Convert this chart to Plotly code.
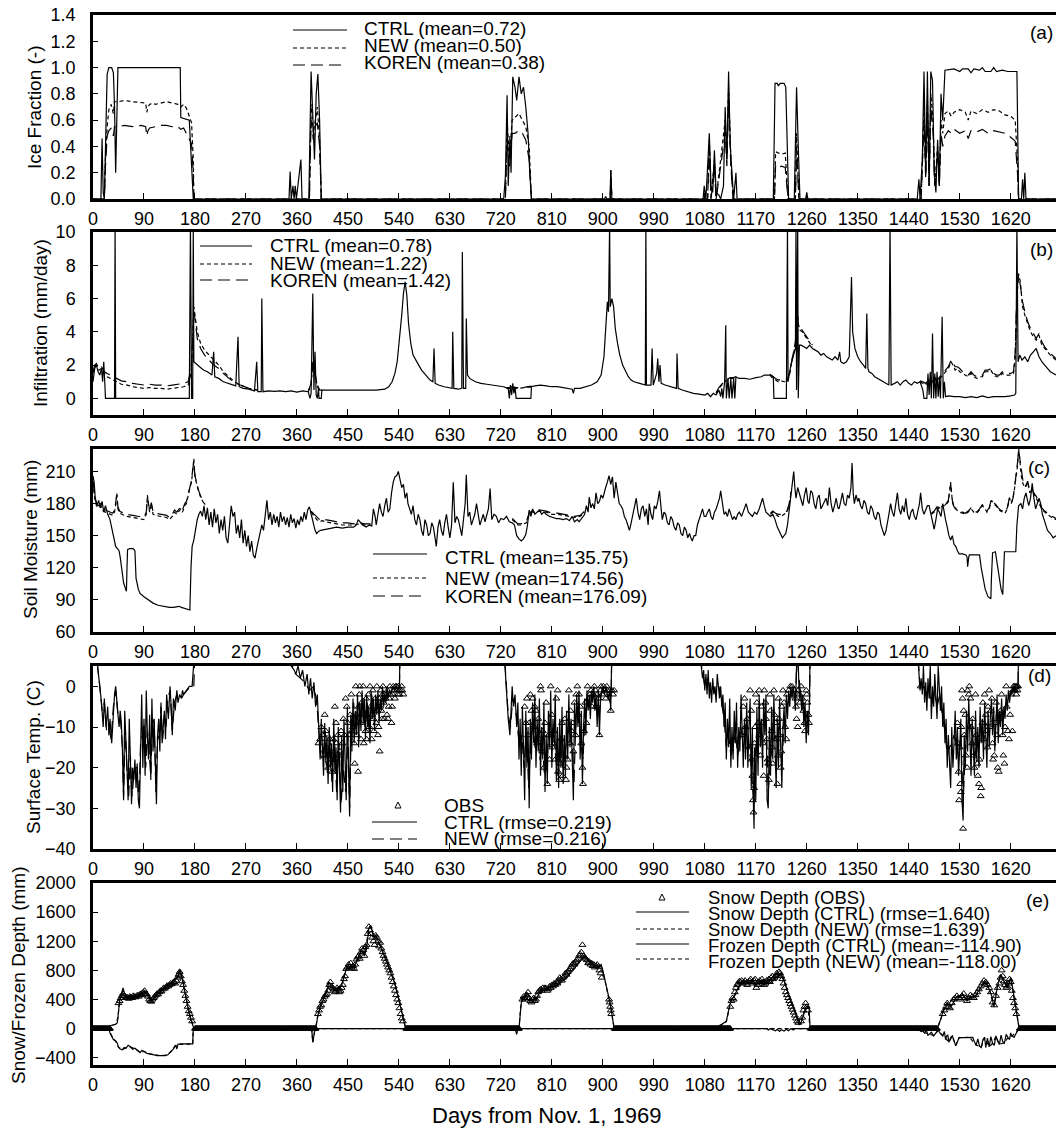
import plotly.graph_objects as go

# ======================= DATA (day, value) =======================
# ---- (a) Ice fraction ----
ice_ctrl = [(0,0),(14,0),(16,0.46),(18,0.05),(20,0),(22,0.5),(25,0.95),(28,1.0),(33,1.0),(36,0.96),(38,0.7),(40,0.2),(42,0.6),(44,1.0),
    (154,1.0),(155,0.62),(170,0.6),(174,0.3),(177,0),(346,0),(348,0.21),(350,0),(353,0.1),(355,0),(357,0.1),(359,0),(367,0.3),(369,0),
    (381,0),(385,0.97),(389,0.5),(391,0.3),(394,0.8),(397,0.95),(400,0.6),(403,0),(725,0),(728,0.17),(731,0.79),(733,0.1),(736,0.48),
    (738,0.2),(741,0.93),(745,0.85),(748,0.75),(752,0.93),(756,0.8),(760,0.85),(764,0.7),(768,0.5),(771,0.2),(774,0),(903,0),(905,0.02),
    (907,0),(913,0),(914,0.22),(916,0),(1077,0),(1079,0.1),(1082,0),(1086,0.3),(1088,0.5),(1091,0.1),(1094,0.05),(1097,0.37),(1100,0.05),
    (1105,0.03),(1108,0),(1113,0.1),(1116,0.7),(1119,0.3),(1122,0.97),(1125,0.4),(1128,0.15),(1131,0),(1135,0.2),(1137,0),(1201,0),
    (1204,0.88),(1208,0.88),(1210,0.86),(1213,0.88),(1220,0.88),(1223,0.85),(1228,0),(1238,0),(1242,0.85),(1245,0.4),(1248,0),(1258,0),
    (1260,0.05),(1262,0),(1455,0),(1458,0.15),(1460,0),(1464,0.3),(1467,0.97),(1470,0.2),(1473,0.97),(1476,0.1),(1479,0.97),(1482,0.9),
    (1485,0.2),(1488,0.05),(1491,0.45),(1494,0.1),(1497,0.8),(1500,0.6),(1504,0.98),(1520,0.99),(1530,0.97),(1535,0.99),(1545,0.99),
    (1550,0.96),(1555,0.99),(1565,0.98),(1570,1.0),(1575,0.97),(1585,0.97),(1590,1.0),(1595,0.97),(1605,0.98),(1615,0.97),(1631,0.97),
    (1634,0),(1639,0),(1641,0.15),(1643,0),(1645,0.2),(1647,0),(1700,0)]
ice_new = [(0,0),(20,0),(22,0.3),(25,0.55),(28,0.68),(32,0.72),(36,0.65),(38,0.74),(45,0.74),(55,0.75),(70,0.74),(85,0.73),(93,0.73),
    (95,0.66),(97,0.7),(100,0.72),(105,0.73),(110,0.72),(120,0.73),(130,0.74),(140,0.73),(150,0.72),(155,0.7),(160,0.72),(165,0.69),
    (170,0.62),(174,0.58),(177,0.3),(178,0),(382,0),(385,0.72),(389,0.5),(392,0.6),(396,0.7),(400,0.45),(403,0),(728,0),(731,0.6),
    (735,0.3),(740,0.6),(745,0.62),(752,0.65),(758,0.6),(764,0.55),(770,0.4),(774,0),(913,0),(914,0.23),(916,0),(1085,0),(1088,0.45),
    (1091,0),(1097,0.3),(1100,0),(1116,0.6),(1119,0.3),(1122,0.85),(1126,0.3),(1130,0),(1203,0),(1205,0.36),(1210,0.35),(1215,0.34),
    (1222,0.35),(1227,0),(1240,0),(1242,0.5),(1246,0),(1462,0),(1467,0.7),(1470,0.2),(1473,0.75),(1476,0.1),(1479,0.8),(1483,0.6),
    (1486,0.1),(1491,0.4),(1494,0.1),(1497,0.6),(1500,0.5),(1504,0.65),(1510,0.67),(1515,0.63),(1520,0.66),(1530,0.68),(1540,0.66),
    (1545,0.6),(1550,0.67),(1560,0.65),(1570,0.68),(1580,0.66),(1590,0.68),(1600,0.67),(1610,0.64),(1620,0.63),(1628,0.6),(1632,0.3),
    (1634,0),(1700,0)]
ice_koren = [(0,0),(20,0),(22,0.25),(25,0.48),(28,0.52),(32,0.54),(36,0.48),(38,0.55),(45,0.55),(55,0.56),(70,0.55),(85,0.56),(93,0.55),
    (95,0.48),(97,0.52),(100,0.54),(110,0.55),(120,0.56),(130,0.56),(140,0.55),(150,0.55),(155,0.53),(160,0.54),(165,0.5),(170,0.45),
    (174,0.42),(177,0.2),(178,0),(382,0),(385,0.6),(389,0.45),(392,0.55),(396,0.58),(400,0.4),(403,0),(728,0),(731,0.45),(735,0.25),
    (740,0.5),(745,0.5),(752,0.52),(758,0.5),(764,0.45),(770,0.3),(774,0),(913,0),(914,0.2),(916,0),(1085,0),(1088,0.4),(1091,0),
    (1097,0.25),(1100,0),(1116,0.5),(1119,0.25),(1122,0.75),(1126,0.25),(1130,0),(1203,0),(1205,0.26),(1210,0.24),(1215,0.25),
    (1222,0.24),(1227,0),(1240,0),(1242,0.4),(1246,0),(1462,0),(1467,0.6),(1470,0.15),(1473,0.65),(1476,0.1),(1479,0.7),(1483,0.5),
    (1486,0.1),(1491,0.35),(1494,0.1),(1497,0.5),(1500,0.4),(1504,0.48),(1510,0.52),(1515,0.5),(1520,0.53),(1530,0.5),(1540,0.52),
    (1545,0.46),(1550,0.52),(1560,0.51),(1570,0.53),(1580,0.5),(1590,0.52),(1600,0.51),(1610,0.5),(1620,0.47),(1628,0.44),(1632,0.2),
    (1634,0),(1700,0)]

# ---- (b) Infiltration ----
infil_ctrl = [(0,1.0),(3,1.8),(6,2.0),(9,1.6),(12,1.4),(15,1.8),(17,1.0),(19,2.2),(21,0.8),(22,0),(38,0),(39,10.5),(40,0),(170,0),
    (172,10.5),(174,0),(176,0),(177,10.5),(178,2.2),(182,2.1),(188,1.9),(195,1.7),(202,1.6),(210,1.4),(213,2.8),(215,1.3),(222,1.2),
    (230,1.0),(238,0.9),(245,0.8),(252,0.75),(256,3.7),(258,0.7),(265,0.6),(275,0.55),(285,0.45),(289,2.2),(291,0.4),(297,0.4),(298,6.0),
    (300,0.4),(310,0.45),(320,0.42),(330,0.45),(340,0.4),(350,0.45),(360,0.38),(370,0.45),(380,0.4),(383,0.0),(385,0.3),(388,6.3),
    (390,0.5),(392,2.8),(394,0.2),(396,0.0),(398,0.6),(399,0),(403,0),(404,0.5),(420,0.5),(440,0.5),(460,0.5),(480,0.5),(500,0.5),
    (515,0.55),(522,0.7),(528,1.0),(533,1.5),(537,2.2),(541,3.5),(545,5.0),(548,6.3),(551,7.0),(554,6.2),(557,4.5),(561,3.3),(565,2.6),
    (570,2.3),(575,2.0),(580,1.7),(585,1.5),(590,1.3),(595,1.1),(600,1.0),(602,3.0),(604,0.9),(610,0.8),(620,0.7),(630,0.6),(634,0.6),
    (635,4.0),(637,0.6),(645,0.55),(651,0.6),(652,8.8),(654,0.6),(658,0.6),(659,4.8),(661,1.4),(665,1.2),(675,1.0),(685,0.9),(695,0.85),
    (705,0.8),(715,0.75),(725,0.7),(733,0.6),(735,0.0),(737,0.8),(739,0.2),(741,0.9),(743,0.3),(745,0.7),(747,0),(773,0),(774,0.7),
    (780,0.75),(790,0.8),(800,0.75),(810,0.7),(820,0.7),(830,0.65),(840,0.6),(846,0.55),(848,0.3),(850,0.6),(860,0.6),(870,0.7),
    (880,0.8),(890,1.0),(897,1.4),(902,2.5),(906,4.5),(908,5.8),(910,5.2),(912,10.5),(913,5.5),(916,6.0),(919,5.5),(922,4.2),(926,3.3),
    (930,2.6),(935,2.0),(940,1.6),(945,1.3),(950,1.1),(955,1.0),(965,0.9),(975,0.8),(976,10.5),(977,0.8),(985,0.8),(987,3.0),(989,0.8),
    (995,1.5),(997,2.4),(999,1.0),(1001,2.0),(1003,0.9),(1010,0.8),(1020,0.7),(1030,0.6),(1031,2.7),(1033,0.6),(1040,0.5),(1050,0.4),
    (1060,0.3),(1070,0.25),(1080,0.2),(1085,0.3),(1090,0.1),(1095,0.3),(1100,0.2),(1105,0.5),(1108,0.1),(1110,0.6),(1112,0),(1115,1.0),
    (1117,4.4),(1118,0),(1121,1.2),(1123,0),(1126,1.2),(1128,0),(1131,1.2),(1133,0),(1135,1.3),(1140,1.2),(1150,1.2),(1160,1.15),
    (1170,1.25),(1180,1.3),(1185,1.4),(1195,1.4),(1201,1.3),(1202,0),(1224,0),(1226,10.5),(1227,1.0),(1232,2.0),(1236,2.6),(1240,3.0),
    (1241,10.5),(1242,0.5),(1244,10.5),(1245,0),(1247,3.2),(1250,3.2),(1255,3.1),(1260,3.0),(1265,3.2),(1270,3.0),(1275,2.9),(1280,2.8),
    (1285,2.6),(1290,2.7),(1295,2.5),(1300,2.4),(1305,2.3),(1310,2.5),(1315,2.3),(1318,2.8),(1320,2.2),(1325,2.1),(1330,2.2),(1335,2.5),
    (1339,7.3),(1341,4.0),(1345,3.0),(1350,2.5),(1355,2.2),(1360,2.0),(1364,1.8),(1366,5.1),(1368,1.8),(1370,1.6),(1375,1.5),(1380,1.3),
    (1385,1.2),(1390,1.1),(1395,1.0),(1400,0.9),(1405,0.8),(1407,10.5),(1409,0.8),(1415,0.9),(1420,1.0),(1425,0.8),(1430,1.0),(1435,1.1),
    (1440,0.9),(1445,0.8),(1450,1.0),(1455,0.9),(1460,1.0),(1465,0.5),(1467,0),(1472,0),(1474,1.5),(1476,0.2),(1478,1.6),(1480,0),
    (1482,3.9),(1484,0),(1486,1.5),(1488,0),(1490,1.6),(1492,0.1),(1494,1.2),(1496,0),(1499,4.9),(1501,0),(1503,1.0),(1505,0.1),
    (1510,0.15),(1520,0.1),(1530,0.1),(1540,0.05),(1550,0.1),(1560,0.05),(1570,0.15),(1580,0.05),(1590,0.1),(1600,0.1),(1610,0.1),
    (1620,0.15),(1627,0.2),(1629,0.3),(1631,10.5),(1633,2.2),(1636,2.6),(1640,2.3),(1645,2.5),(1650,2.2),(1655,2.6),(1660,2.8),
    (1665,3.0),(1670,2.5),(1675,2.2),(1680,2.0),(1685,1.8),(1690,1.6),(1700,1.4)]
infil_new_segs = [
    [(0,1.5),(3,1.9),(6,2.0),(10,1.7),(15,1.8),(20,1.5),(25,1.3),(30,1.2),(40,1.0),(50,0.85),(60,0.8),(70,0.7),(80,0.65),(90,0.6),
     (100,0.65),(110,0.6),(120,0.6),(130,0.55),(140,0.6),(150,0.65),(160,0.7),(168,0.8),(173,1.5),(176,3.5),(178,5.5),(180,5.0),
     (184,4.0),(190,3.3),(197,2.9),(205,2.6),(213,2.3),(222,2.0),(230,1.6),(240,1.3),(250,1.0),(260,0.8),(275,0.6),(290,0.5)],
    [(380,0.4),(385,0.8),(388,2.0),(392,1.5),(396,0.7),(400,0.5),(405,0.5)],
    [(730,0.6),(735,0.6),(740,0.65),(745,0.6),(750,0.6),(755,0.62),(760,0.6),(765,0.65),(770,0.68),(775,0.7)],
    [(1100,0.3),(1105,0.6),(1110,0.8),(1115,1.0),(1120,1.1),(1125,1.2),(1130,1.2),(1135,1.25)],
    [(1195,1.4),(1200,1.2),(1205,1.1),(1210,1.0),(1215,1.05),(1220,1.0),(1225,1.0),(1230,1.5),(1235,2.5),(1240,3.2),(1243,5.5),
     (1245,4.5),(1248,4.1),(1252,4.0),(1256,3.8),(1260,3.6),(1265,3.3),(1270,3.1)],
    [(1460,1.0),(1465,0.9),(1470,0.8),(1475,1.0),(1480,0.9),(1485,1.2),(1490,1.0),(1495,1.2),(1500,1.4),(1505,1.6),(1510,1.8),
     (1515,2.2),(1518,2.0),(1522,1.7),(1526,1.8),(1530,1.6),(1535,1.5),(1540,1.4),(1545,1.3),(1550,1.5),(1555,1.3),(1560,1.2),
     (1565,1.3),(1570,1.3),(1575,1.6),(1580,1.6),(1585,1.7),(1590,1.4),(1595,1.3),(1600,1.3),(1605,1.5),(1610,1.4),(1615,1.4),
     (1620,1.4),(1625,1.5),(1628,2.5),(1631,6.0),(1634,7.5),(1637,7.0),(1641,5.5),(1645,5.0),(1650,4.5),(1655,4.0),(1660,3.7),
     (1665,3.5),(1670,3.8),(1675,3.2),(1680,3.0),(1690,2.6),(1700,2.3)]]
infil_koren_segs = [
    [(0,1.6),(3,2.0),(6,2.1),(10,1.8),(15,1.9),(20,1.6),(25,1.5),(30,1.4),(40,1.2),(50,1.05),(60,1.0),(70,0.9),(80,0.85),(90,0.8),
     (100,0.85),(110,0.8),(120,0.8),(130,0.75),(140,0.8),(150,0.85),(160,0.9),(168,1.0),(173,1.8),(176,3.5),(178,5.2),(180,4.8),
     (184,3.6),(190,3.0),(197,2.6),(205,2.3),(213,2.0),(222,1.8),(230,1.5),(240,1.2),(250,0.95),(260,0.8),(275,0.6),(290,0.5)],
    [(380,0.45),(385,0.9),(388,2.2),(392,1.6),(396,0.8),(400,0.5),(405,0.5)],
    [(730,0.65),(735,0.65),(740,0.7),(745,0.65),(750,0.65),(755,0.68),(760,0.65),(765,0.7),(770,0.72),(775,0.72)],
    [(1100,0.35),(1105,0.65),(1110,0.85),(1115,1.05),(1120,1.15),(1125,1.25),(1130,1.25),(1135,1.3)],
    [(1195,1.45),(1200,1.3),(1205,1.2),(1210,1.1),(1215,1.15),(1220,1.1),(1225,1.05),(1230,1.6),(1235,2.6),(1240,3.4),(1243,5.2),
     (1245,4.4),(1248,4.2),(1252,4.1),(1256,3.9),(1260,3.7),(1265,3.4),(1270,3.2)],
    [(1460,1.05),(1465,1.0),(1470,0.9),(1475,1.1),(1480,1.0),(1485,1.3),(1490,1.1),(1495,1.3),(1500,1.5),(1505,1.7),(1510,1.9),
     (1515,2.3),(1518,2.1),(1522,1.9),(1526,1.9),(1530,1.8),(1535,1.6),(1540,1.5),(1545,1.4),(1550,1.6),(1555,1.4),(1560,1.3),
     (1565,1.4),(1570,1.4),(1575,1.7),(1580,1.7),(1585,1.8),(1590,1.5),(1595,1.4),(1600,1.4),(1605,1.6),(1610,1.5),(1615,1.5),
     (1620,1.5),(1625,1.6),(1628,2.8),(1631,6.5),(1634,7.4),(1637,6.8),(1641,5.8),(1645,5.2),(1650,4.6),(1655,4.2),(1660,3.9),
     (1665,3.6),(1670,3.9),(1675,3.4),(1680,3.1),(1690,2.7),(1700,2.4)]]

# ---- (c) Soil moisture ----
sm_ctrl = [(0,206),(2,200),(4,185),(7,178),(10,183),(13,176),(16,182),(19,172),(22,178),(26,170),(30,165),(33,158),(36,150),(40,140),
    (43,138),(46,136),(48,130),(51,115),(54,106),(57,101),(59,98),(60,120),(61,137),(65,138),(71,138),(74,136),(76,110),(80,100),(83,96),
    (90,93),(95,91),(100,89),(106,87),(115,85),(124,84),(135,83),(142,83),(148,84),(152,84),(156,83),(162,82),(168,81),(171,80.5),
    (173,120),(175,140),(178,146),(181,158),(184,165),(187,170),(190,173),(193,168),(196,178),(199,165),(202,176),(205,160),(208,172),
    (211,158),(214,175),(217,162),(220,170),(223,152),(226,165),(229,155),(232,168),(235,148),(238,143),(241,160),(244,178),(247,168),
    (250,172),(253,152),(256,160),(259,148),(262,165),(265,143),(268,155),(271,140),(274,150),(277,135),(280,145),(283,132),(286,129),
    (289,138),(292,145),(295,150),(298,160),(301,155),(304,168),(307,183),(310,165),(313,172),(316,160),(319,170),(322,162),(325,168),
    (328,158),(331,172),(334,163),(337,168),(340,160),(343,167),(346,158),(349,170),(352,162),(355,166),(358,157),(361,165),(364,160),
    (367,168),(370,163),(373,172),(376,165),(379,174),(382,177),(385,170),(388,165),(392,155),(395,152),(398,154),(402,155),(410,156),
    (420,157),(430,158),(440,157),(450,158),(460,158),(465,160),(468,165),(472,162),(476,160),(482,158),(488,160),(492,159),(495,175),
    (498,168),(500,160),(503,170),(506,180),(509,172),(512,168),(515,178),(518,185),(521,172),(524,175),(527,190),(530,200),(533,205),
    (536,206),(539,210),(542,203),(545,195),(548,198),(551,185),(554,190),(556,180),(559,175),(562,170),(565,178),(568,165),(571,160),
    (574,170),(577,165),(580,155),(583,150),(586,165),(589,160),(592,150),(595,152),(598,162),(601,158),(604,145),(606,140),(609,158),
    (612,165),(615,155),(618,150),(621,162),(624,170),(627,158),(630,148),(633,160),(636,200),(639,162),(642,168),(645,165),(648,158),
    (651,150),(654,165),(657,180),(659,207),(662,168),(665,172),(668,160),(671,165),(674,170),(677,180),(680,168),(683,160),(686,165),
    (689,170),(692,163),(695,168),(698,175),(701,194),(704,165),(708,170),(712,168),(716,162),(720,166),(725,165),(730,168),(735,163),
    (740,162),(744,160),(748,150),(752,147),(756,145),(760,147),(764,151),(767,160),(770,174),(773,168),(776,175),(780,170),(784,172),
    (788,174),(792,170),(796,172),(800,170),(806,168),(812,167),(818,166),(823,166),(830,165),(836,166),(841,164),(846,168),(850,163),
    (855,165),(858,163),(864,167),(868,170),(871,178),(874,172),(876,186),(879,176),(882,180),(885,175),(888,190),(891,180),(894,182),
    (897,188),(900,185),(903,192),(905,195),(908,200),(911,206),(914,198),(917,205),(920,185),(923,200),(926,190),(929,180),(932,178),
    (935,175),(938,168),(941,165),(944,160),(947,155),(950,162),(953,170),(956,178),(959,185),(962,172),(965,165),(968,175),(971,178),
    (974,168),(977,175),(980,160),(982,180),(985,170),(988,165),(991,178),(994,175),(997,182),(1000,192),(1003,175),(1005,165),
    (1008,172),(1011,170),(1014,162),(1017,160),(1020,168),(1023,165),(1026,158),(1029,155),(1032,162),(1035,160),(1038,152),
    (1041,150),(1044,158),(1047,155),(1050,148),(1053,152),(1056,147),(1058,145),(1061,150),(1064,150),(1067,160),(1070,165),
    (1073,170),(1076,175),(1079,168),(1082,168),(1085,172),(1088,175),(1091,168),(1094,165),(1097,172),(1100,175),(1103,180),
    (1106,185),(1108,192),(1111,178),(1114,170),(1117,172),(1120,168),(1123,175),(1126,170),(1129,165),(1132,168),(1135,165),
    (1138,170),(1141,172),(1145,168),(1149,175),(1153,180),(1157,172),(1160,170),(1164,168),(1168,172),(1172,170),(1176,175),
    (1179,180),(1182,185),(1185,178),(1188,172),(1192,170),(1196,168),(1200,170),(1204,165),(1208,158),(1211,155),(1214,152),
    (1217,148),(1220,150),(1223,152),(1226,160),(1229,175),(1232,190),(1235,200),(1237,210),(1239,195),(1241,185),(1244,195),
    (1247,190),(1250,185),(1253,178),(1256,188),(1259,195),(1262,182),(1264,180),(1267,192),(1270,190),(1273,180),(1276,175),
    (1279,185),(1282,188),(1285,175),(1288,178),(1291,182),(1294,185),(1297,178),(1300,195),(1303,180),(1306,172),(1309,178),
    (1312,185),(1315,176),(1317,175),(1320,182),(1323,190),(1326,180),(1329,178),(1332,188),(1335,185),(1338,195),(1340,218),
    (1342,190),(1344,180),(1347,188),(1350,182),(1352,185),(1355,178),(1358,175),(1361,183),(1364,180),(1367,172),(1370,170),
    (1373,178),(1376,175),(1379,168),(1382,165),(1385,172),(1388,170),(1391,160),(1394,155),(1397,150),(1400,155),(1402,160),
    (1405,170),(1408,180),(1411,172),(1414,168),(1417,178),(1420,190),(1423,175),(1426,170),(1429,178),(1432,172),(1435,185),
    (1438,170),(1441,165),(1444,172),(1447,175),(1450,168),(1453,165),(1456,172),(1459,180),(1461,190),(1464,175),(1467,170),
    (1470,175),(1473,178),(1476,178),(1479,170),(1482,165),(1485,156),(1488,165),(1491,175),(1494,172),(1497,168),(1500,180),
    (1503,170),(1505,165),(1508,158),(1511,150),(1514,146),(1517,150),(1520,142),(1523,140),(1526,136),(1529,133),(1535,133),
    (1541,132),(1543,130),(1544,121),(1546,130),(1547,132),(1560,132),(1565,132),(1568,120),(1572,108),(1575,100),(1580,93),
    (1585,91),(1586,110),(1588,134),(1593,135),(1596,125),(1600,110),(1603,100),(1606,95),(1608,115),(1609,135),(1620,135),(1629,135),
    (1631,160),(1634,178),(1638,180),(1641,175),(1644,185),(1647,190),(1650,182),(1652,178),(1655,185),(1658,199),(1661,185),
    (1664,175),(1667,180),(1670,185),(1673,180),(1676,170),(1679,165),(1682,160),(1685,155),(1690,152),(1695,148),(1700,150)]
sm_new_segs = [
    [(0,200),(3,185),(6,178),(10,176),(14,178),(18,173),(22,172),(26,171),(30,170),(35,169),(38,172),(40,178),(42,190),(44,175),(47,171),
     (50,170),(55,169),(60,168),(70,167),(80,166),(90,165),(94,170),(96,188),(98,178),(100,172),(103,180),(106,170),(110,169),(120,168),
     (130,167),(135,165),(140,168),(144,172),(148,170),(152,173),(155,175),(158,172),(162,178),(165,180),(168,188),(171,195),(174,200),
     (176,210),(178,222),(180,205),(183,198),(186,192),(190,186),(194,182),(198,178)],
    [(385,172),(390,168),(395,165),(400,163),(405,164),(410,163),(420,162),(430,161),(440,160),(450,160),(460,160),(470,161),(480,160),(490,160)],
    [(740,165),(745,162),(750,160),(755,160),(760,161),(765,162),(770,170),(775,172),(780,172),(790,173),(800,172),(810,170),(820,170),
     (830,169),(840,168),(850,167),(860,168),(868,172)],
    [(1196,170),(1200,172),(1205,170),(1210,168),(1215,168),(1220,170),(1225,172),(1229,178),(1232,190)],
    [(1480,170),(1485,172),(1490,176),(1495,175),(1500,178),(1505,178),(1510,182),(1514,200),(1517,182),(1520,176),(1525,174),(1530,172),
     (1535,171),(1540,170),(1545,172),(1550,175),(1555,172),(1560,171),(1565,174),(1570,178),(1574,176),(1578,172),(1582,175),(1586,183),
     (1590,180),(1594,178),(1598,175),(1602,173),(1606,172),(1610,171),(1614,175),(1618,185),(1621,180),(1624,184),(1627,195),(1630,205),
     (1632,215),(1634,232),(1636,220),(1639,205),(1642,198),(1646,195),(1650,200),(1654,190),(1658,192),(1662,188),(1666,185),(1670,180),
     (1675,175),(1680,172),(1690,168),(1700,165)]]
sm_koren_segs = [
    [(0,201),(3,187),(6,180),(10,178),(14,180),(18,175),(22,174),(26,173),(30,172),(35,171),(38,174),(40,180),(42,188),(44,177),(47,173),
     (50,172),(55,171),(60,170),(70,169),(80,168),(90,167),(94,172),(96,186),(98,180),(100,174),(103,181),(106,172),(110,171),(120,170),
     (130,169),(135,167),(140,170),(144,174),(148,172),(152,175),(155,177),(158,174),(162,180),(165,182),(168,189),(171,196),(174,202),
     (176,212),(178,218),(180,206),(183,199),(186,193),(190,187),(194,183),(198,179)],
    [(385,173),(390,170),(395,167),(400,165),(405,166),(410,165),(420,164),(430,163),(440,162),(450,162),(460,161),(470,162),(480,161),(490,161)],
    [(740,166),(745,163),(750,161),(755,161),(760,162),(765,163),(770,171),(775,173),(780,173),(790,174),(800,173),(810,171),(820,171),
     (830,170),(840,169),(850,168),(860,169),(868,173)],
    [(1196,171),(1200,173),(1205,171),(1210,170),(1215,170),(1220,171),(1225,173),(1229,180),(1232,191)],
    [(1480,171),(1485,173),(1490,177),(1495,176),(1500,179),(1505,179),(1510,183),(1514,198),(1517,183),(1520,177),(1525,175),(1530,173),
     (1535,172),(1540,171),(1545,173),(1550,176),(1555,173),(1560,172),(1565,175),(1570,179),(1574,177),(1578,173),(1582,176),(1586,184),
     (1590,181),(1594,179),(1598,176),(1602,174),(1606,173),(1610,172),(1614,176),(1618,186),(1621,181),(1624,185),(1627,196),(1630,207),
     (1632,218),(1634,230),(1636,222),(1639,207),(1642,200),(1646,196),(1650,201),(1654,191),(1658,193),(1662,189),(1666,186),(1670,181),
     (1675,176),(1680,173),(1690,169),(1700,166)]]

# ---- (d) Surface temperature ----
temp_ctrl = [(0,10),(8,5),(12,0),(15,-4),(18,-10),(20,-3),(23,-10),(26,-5),(28,-12),(30,-8),(33,-14),(36,-6),(38,-2),(40,0),(43,-5),
    (46,-10),(48,-6),(50,-9),(52,-16),(54,-28),(56,-6),(58,-12),(60,-20),(62,-28),(64,-8),(66,-18),(68,-29),(70,-20),(72,-23),(74,-18),
    (76,-25),(78,-19),(80,-28),(82,-30),(84,-14),(86,-2),(88,-20),(90,-8),(92,-22),(94,-1),(96,-12),(98,-18),(100,-7),(102,-23),(104,-3),
    (106,-16),(108,-8),(110,-19),(112,-29),(114,-12),(116,-8),(118,-16),(120,-4),(122,-14),(124,-10),(126,-6),(128,-13),(130,-2),(133,-8),
    (136,0),(138,-5),(140,-12),(142,-3),(145,-6),(148,-1),(150,-4),(153,-2),(156,-3),(158,-1),(160,-2),(165,-1),(170,0),(175,0),(180,10),
    (345,10),(350,5),(355,4),(358,3),(362,5),(366,2),(370,4),(374,0),(378,3),(381,-2),(384,2),(387,-3),(390,1),(393,-5),(396,-2),(399,-12),
    (401,-18),(403,-8),(405,-16),(407,-22),(409,-9),(411,-19),(413,-12),(415,-24),(417,-10),(419,-20),(421,-14),(423,-26),(425,-8),
    (427,-21),(429,-15),(431,-28),(433,-10),(435,-22),(437,-31),(439,-12),(441,-26),(443,-8),(445,-20),(447,-28),(449,-5),(451,-18),
    (453,-32),(455,-7),(457,-16),(459,-3),(461,-14),(463,-6),(465,-12),(467,-2),(469,-15),(471,-4),(473,-11),(475,-1),(477,-9),(479,-3),
    (481,-13),(483,-2),(485,-10),(487,-5),(489,-14),(491,-1),(493,-8),(495,-3),(497,-11),(499,-2),(501,-7),(503,-1),(505,-9),(507,-3),
    (509,-6),(511,0),(513,-5),(515,-2),(517,-4),(519,0),(521,-3),(523,-1),(526,-2),(529,0),(532,-1),(535,0),(538,-1),(541,0),(542,10),
    (725,10),(727,5),(730,-2),(733,-8),(736,-12),(738,-4),(740,0),(742,-5),(745,-2),(748,-10),(750,-4),(752,-18),(754,-8),(756,-22),
    (758,-5),(760,-15),(762,-28),(764,-6),(766,-20),(768,-10),(770,-30),(772,-8),(774,-18),(776,-4),(778,-14),(780,-2),(782,-20),
    (784,-8),(786,-16),(788,-3),(790,-22),(792,-10),(794,-18),(796,-4),(798,-26),(800,-12),(802,-24),(804,-6),(806,-15),(808,-1),
    (810,-20),(812,-8),(814,-14),(816,-2),(818,-23),(820,-10),(822,-25),(824,-8),(826,-20),(828,-5),(830,-24),(832,-12),(834,-22),
    (836,-6),(838,-18),(840,-2),(842,-15),(844,-8),(846,-20),(848,-28),(850,-4),(852,-12),(854,-2),(856,-10),(858,-1),(860,-18),
    (862,-6),(864,-24),(866,-10),(868,-3),(870,-12),(872,-1),(874,-6),(876,-2),(878,-8),(880,-1),(882,-4),(884,0),(886,-6),(888,-2),
    (890,-10),(892,-1),(894,-12),(896,-3),(898,-1),(900,0),(903,-2),(906,0),(909,-3),(912,-1),(914,-6),(915,0),(916,10),
    (1070,10),(1074,5),(1076,2),(1078,4),(1080,-1),(1082,3),(1084,-2),(1086,4),(1088,-3),(1090,1),(1092,-4),(1094,2),(1096,-2),(1098,0),
    (1100,-4),(1102,3),(1104,-1),(1106,-3),(1108,0),(1110,-5),(1112,-2),(1114,-10),(1116,-4),(1118,-18),(1120,-8),(1122,-15),(1124,-3),
    (1126,-20),(1128,-10),(1130,-18),(1132,-6),(1134,-14),(1136,-4),(1138,-20),(1140,-10),(1142,-16),(1144,-2),(1146,-12),(1148,-20),
    (1150,-8),(1152,-18),(1154,-4),(1156,-20),(1158,-10),(1160,-3),(1162,-25),(1164,-10),(1166,-30),(1167,-35),(1168,-15),(1170,-28),
    (1172,-5),(1174,-22),(1176,-2),(1178,-15),(1180,-8),(1182,-20),(1184,-3),(1186,-12),(1188,-2),(1190,-28),(1192,-30),(1194,-10),
    (1196,-22),(1198,-5),(1200,-18),(1202,-2),(1204,-15),(1206,-25),(1208,-8),(1210,-20),(1212,-3),(1214,-18),(1216,-25),(1218,-10),
    (1220,-5),(1222,-14),(1224,-2),(1226,-8),(1228,-1),(1230,-5),(1232,0),(1234,-3),(1236,0),(1238,-2),(1240,-6),(1242,5),(1243,10),
    (1245,5),(1247,-3),(1249,-1),(1251,-6),(1253,-2),(1255,-10),(1257,-4),(1259,-14),(1261,-6),(1263,-12),(1265,-2),(1266,10),
    (1455,10),(1458,4),(1460,-1),(1462,2),(1464,-2),(1466,5),(1468,-4),(1470,1),(1472,-6),(1474,2),(1476,-3),(1478,5),(1480,-8),(1482,0),
    (1484,-5),(1486,3),(1488,-2),(1490,-8),(1492,5),(1494,-3),(1496,-6),(1498,0),(1500,-10),(1502,-4),(1504,-14),(1506,-8),(1508,-20),
    (1510,-12),(1512,-18),(1514,-25),(1516,-10),(1518,-20),(1520,-14),(1522,-6),(1524,-18),(1526,-10),(1528,-22),(1530,-15),(1532,-8),
    (1534,-28),(1536,-33),(1538,-12),(1540,-20),(1542,-6),(1544,-16),(1546,-3),(1548,-12),(1550,-22),(1552,-8),(1554,-15),(1556,-22),
    (1558,-6),(1560,-18),(1562,-10),(1564,-20),(1566,-5),(1568,-14),(1570,-8),(1572,-18),(1574,-4),(1576,-12),(1578,-20),(1580,-6),
    (1582,-15),(1584,-8),(1586,-3),(1588,-12),(1590,-5),(1592,-16),(1594,-8),(1596,-2),(1598,-14),(1600,-6),(1602,-10),(1604,-3),
    (1606,-12),(1608,-5),(1610,-8),(1612,-2),(1614,-6),(1616,-1),(1618,-4),(1620,-1),(1622,-2),(1624,0),(1626,-1),(1628,0),(1630,-1),
    (1633,0),(1634,10),(1700,10)]
temp_new = [(0,10),(8,5),(12,0),(16,-6),(20,-4),(24,-11),(28,-10),(32,-13),(36,-5),(40,-1),(44,-7),(48,-7),(52,-15),(54,-27),(57,-10),
    (60,-21),(63,-27),(66,-17),(69,-27),(72,-22),(75,-20),(78,-20),(81,-29),(84,-14),(87,-12),(90,-9),(93,-20),(96,-11),(99,-16),
    (102,-22),(105,-8),(108,-9),(111,-26),(114,-12),(117,-13),(120,-5),(123,-13),(126,-7),(129,-10),(132,-3),(136,-1),(140,-11),
    (144,-4),(148,-2),(152,-3),(156,-3),(160,-2),(166,-1),(172,0),(178,0),(180,10),(345,10),(352,5),(358,3),(366,2),(374,1),(382,-1),
    (390,0),(395,-4),(399,-11),(402,-17),(406,-18),(410,-11),(414,-22),(418,-12),(422,-24),(426,-12),(430,-26),(434,-14),(438,-29),
    (442,-20),(446,-26),(450,-12),(453,-30),(456,-9),(460,-4),(464,-10),(468,-4),(472,-8),(476,-3),(480,-10),(484,-4),(488,-12),
    (492,-2),(496,-7),(500,-4),(504,-6),(508,-4),(512,-3),(516,-3),(520,-1),(525,-2),(530,0),(536,-1),(541,0),(542,10),(725,10),
    (728,4),(733,-7),(737,-10),(741,-3),(745,-4),(749,-9),(753,-15),(757,-12),(761,-20),(765,-10),(769,-25),(773,-12),(777,-10),
    (781,-16),(785,-12),(789,-18),(793,-14),(797,-22),(801,-20),(805,-10),(809,-12),(813,-10),(817,-18),(821,-22),(825,-14),(829,-20),
    (833,-16),(837,-12),(841,-10),(845,-14),(849,-24),(853,-6),(857,-8),(861,-14),(865,-18),(869,-6),(873,-4),(877,-5),(881,-3),
    (885,-3),(889,-6),(893,-8),(897,-2),(901,-1),(905,-1),(909,-2),(913,-4),(915,0),(916,10),(1070,10),(1075,4),(1080,0),(1085,2),
    (1090,-1),(1095,0),(1100,-2),(1105,0),(1110,-4),(1114,-8),(1118,-15),(1122,-12),(1126,-17),(1130,-15),(1134,-11),(1138,-17),
    (1142,-14),(1146,-10),(1150,-12),(1154,-8),(1158,-14),(1162,-20),(1166,-28),(1168,-20),(1172,-10),(1176,-8),(1180,-10),(1184,-8),
    (1188,-6),(1192,-26),(1196,-18),(1200,-14),(1204,-12),(1208,-14),(1212,-8),(1216,-20),(1220,-8),(1224,-6),(1228,-3),(1232,-1),
    (1236,-1),(1240,-4),(1242,5),(1243,10),(1245,4),(1249,-2),(1253,-4),(1257,-6),(1261,-8),(1265,-4),(1266,10),(1455,10),(1460,0),
    (1465,1),(1470,-2),(1475,0),(1480,-5),(1485,-1),(1490,-5),(1495,-2),(1500,-8),(1504,-11),(1508,-17),(1512,-15),(1516,-14),
    (1520,-12),(1524,-14),(1528,-18),(1532,-12),(1536,-28),(1540,-16),(1544,-10),(1548,-9),(1552,-12),(1556,-18),(1560,-14),
    (1564,-15),(1568,-10),(1572,-14),(1576,-9),(1580,-10),(1584,-10),(1588,-8),(1592,-12),(1596,-5),(1600,-9),(1604,-6),(1608,-8),
    (1612,-4),(1616,-3),(1620,-2),(1624,-1),(1628,-1),(1633,0),(1634,10),(1700,10)]
temp_obs = [(398,-14),(401,-13),(403,-10),(405,-12),(407,-16),(409,-7),(411,-11),(412,-15),(414,-17),(415,-20),(417,-19),(418,-13),
    (420,-16),(422,-21),(424,-13),(425,-18),(427,-5),(429,-9),(430,-14),(432,-12),(434,-17),(436,-16),(438,-11),(440,-14),(442,-8),
    (444,-12),(446,-3),(448,-5),(450,-9),(452,-12),(454,-7),(456,-2),(457,-11),(459,-10),(461,-14),(462,-19),(464,0),(465,-7),(466,-12),
    (468,-21),(469,-5),(470,-2),(471,0),(472,-9),(473,-13),(474,-4),(476,-6),(477,0),(478,-14),(480,-7),(481,-11),(482,-3),(483,-13),
    (485,-8),(486,-2),(488,-10),(489,0),(490,-5),(492,-13),(493,-7),(494,-1),(495,-8),(496,-11),(498,-3),(500,-9),(501,0),(502,-6),
    (503,-12),(504,-10),(505,-3),(506,-16),(507,-5),(508,-1),(509,-6),(510,-8),(511,-2),(512,0),(513,-4),(514,-8),(515,-2),(516,-3),
    (518,-2),(519,-7),(520,-1),(521,-8),(522,-5),(523,-3),(524,0),(525,-2),(527,-9),(528,-5),(529,-2),(530,0),(531,-1),(533,-3),(534,0),
    (536,0),(537,-1),(538,-2),(539,0),(540,-1),(541,-2),(543,-1),(545,0),(546,-1),(548,-2),
    (762,-5),(764,-9),(766,-3),(768,-12),(770,-9),(772,-2),(774,-6),(776,-3),(778,-10),(780,-5),(782,-6),(784,-14),(786,-8),(788,-13),
    (790,0),(791,-1),(793,-16),(794,-11),(796,-20),(798,-9),(800,-4),(802,-24),(804,-12),(806,-18),(808,0),(810,-7),(811,-15),(813,-11),
    (814,-14),(816,-18),(818,-3),(820,-1),(821,-21),(823,-23),(825,-19),(826,-13),(828,-9),(829,-22),(831,-17),(833,-8),(835,-23),
    (836,-20),(838,-18),(840,-1),(842,-14),(843,-6),(845,-11),(847,-9),(848,-16),(850,-4),(852,-12),(853,-2),(855,0),(857,-7),(858,-2),
    (860,-5),(862,-14),(864,-20),(865,-24),(867,-11),(869,-4),(871,-9),(873,0),(875,-3),(877,-2),(879,-1),(881,-5),(883,-2),(885,0),
    (887,-1),(888,-5),(890,-2),(892,-3),(894,-12),(896,-1),(897,0),(899,-2),(901,0),(903,-1),(905,-3),(907,0),(908,-1),(910,-2),
    (912,-1),(914,-6),(916,-1),(918,-2),(920,-1),
    (1145,-12),(1148,-5),(1150,-3),(1152,-10),(1155,-8),(1158,-15),(1160,-1),(1162,-6),(1163,-18),(1164,-22),(1165,-28),(1166,-31),
    (1167,-25),(1168,-14),(1169,-10),(1170,-2),(1172,-4),(1174,-9),(1176,-1),(1177,-12),(1178,-17),(1180,-5),(1182,-9),(1183,-14),
    (1184,-22),(1185,-1),(1187,-4),(1188,-8),(1190,-13),(1191,-18),(1192,-19),(1193,-23),(1195,-2),(1196,-6),(1198,-11),(1199,-15),
    (1200,-19),(1202,-1),(1203,-7),(1205,-9),(1206,-13),(1208,-24),(1209,-17),(1210,-3),(1211,-8),(1212,-12),(1214,-20),(1215,-16),
    (1216,-5),(1218,-1),(1220,-4),(1222,-10),(1224,-13),(1225,-2),(1228,-1),(1231,0),(1234,0),(1236,-2),(1238,-1),(1240,-3),(1241,-5),
    (1242,-8),(1244,-10),(1245,-1),(1247,-2),(1248,-4),(1250,0),(1252,-3),(1254,-6),(1256,-9),(1257,-11),(1259,-1),(1260,-2),(1261,-4),
    (1263,-7),(1264,-9),
    (1461,0),(1526,-9),(1527,-14),(1528,-21),(1529,-28),(1530,-15),(1531,-24),(1532,-26),(1533,-10),(1534,-1),(1535,-3),(1536,-35),
    (1537,-6),(1538,-12),(1540,-7),(1541,-17),(1543,-20),(1544,-1),(1546,-2),(1547,0),(1549,-3),(1550,-10),(1552,-14),(1553,-8),
    (1555,-17),(1556,-20),(1558,-2),(1559,-12),(1561,-19),(1562,-22),(1564,-24),(1565,-18),(1567,-27),(1568,-25),(1570,-9),(1571,-4),
    (1573,-13),(1574,-2),(1576,-7),(1577,-11),(1579,-15),(1580,-5),(1582,-1),(1583,-10),(1585,-6),(1587,-3),(1588,-14),(1589,-18),
    (1591,-17),(1592,-9),(1594,-4),(1596,-12),(1597,-20),(1599,-21),(1600,-8),(1602,-6),(1604,-2),(1606,-12),(1607,-17),(1609,-19),
    (1610,-10),(1612,0),(1613,-5),(1615,-11),(1617,-13),(1619,-7),(1621,-2),(1623,-11),(1624,-1),(1625,0),(1626,-1),(1627,0),(1628,-1),
    (1629,0),(1630,-2),(1631,0),(1632,-1),(1633,0)]

# ---- (e) Snow / frozen depth ----
snow_ctrl = [(0,0),(28,0),(30,40),(36,50),(40,60),(43,80),(45,200),(47,380),(50,450),(53,560),(55,500),(58,450),(62,430),(66,460),(70,440),
    (75,450),(80,470),(85,460),(90,520),(95,480),(98,430),(103,380),(107,420),(110,450),(115,480),(120,520),(125,560),(130,580),(135,620),
    (140,650),(145,680),(148,700),(151,740),(153,810),(156,760),(158,650),(161,550),(164,430),(167,300),(170,200),(173,120),(176,50),
    (178,0),(393,0),(395,120),(398,220),(402,320),(406,400),(410,460),(413,520),(416,640),(419,600),(423,560),(427,520),(431,560),
    (435,540),(439,600),(443,700),(447,820),(451,840),(455,860),(459,830),(463,880),(467,950),(471,1040),(475,1060),(479,1000),
    (483,1100),(487,1380),(490,1420),(493,1330),(496,1250),(499,1290),(502,1220),(506,1150),(510,1080),(514,1000),(518,930),(522,860),
    (526,770),(530,680),(534,580),(538,470),(541,360),(544,260),(547,170),(550,80),(552,0),(752,0),(754,250),(756,350),(759,450),
    (762,420),(765,480),(768,470),(771,400),(775,380),(779,420),(783,400),(787,480),(791,520),(795,540),(800,550),(805,560),(810,570),
    (815,580),(820,600),(825,640),(830,660),(835,700),(840,740),(845,780),(850,830),(855,880),(860,930),(865,980),(868,1000),(872,960),
    (876,920),(880,900),(885,870),(890,850),(894,860),(897,880),(900,800),(903,700),(906,580),(909,470),(912,380),(915,250),(918,120),
    (920,0),(1100,0),(1105,40),(1110,60),(1115,80),(1118,100),(1122,250),(1126,380),(1130,420),(1134,480),(1138,540),(1142,600),
    (1145,650),(1150,660),(1155,640),(1160,620),(1165,650),(1170,600),(1175,640),(1180,660),(1185,600),(1190,640),(1195,620),(1200,660),
    (1205,700),(1210,740),(1214,760),(1218,700),(1222,600),(1226,500),(1230,420),(1234,330),(1238,260),(1241,180),(1244,120),(1247,50),
    (1250,80),(1253,150),(1256,250),(1259,300),(1262,310),(1264,300),(1266,0),(1490,0),(1493,50),(1496,120),(1499,200),(1502,260),
    (1505,280),(1508,360),(1511,320),(1514,300),(1517,330),(1520,380),(1523,420),(1527,450),(1531,430),(1535,470),(1539,420),(1543,380),
    (1547,420),(1551,440),(1555,430),(1559,460),(1563,520),(1567,560),(1571,600),(1575,650),(1579,600),(1583,520),(1587,440),(1590,300),
    (1593,400),(1596,560),(1599,640),(1602,740),(1605,700),(1608,650),(1611,600),(1614,560),(1617,620),(1620,700),(1623,580),(1626,420),
    (1629,260),(1632,120),(1635,0),(1700,0)]
snow_new = [(0,0),(28,0),(32,40),(40,60),(44,150),(47,380),(52,520),(56,470),(62,440),(70,450),(80,465),(90,510),(98,440),(104,390),
    (110,440),(120,510),(130,575),(140,645),(148,700),(153,800),(158,660),(164,440),(170,210),(176,60),(178,0),(393,0),(396,150),
    (402,320),(410,460),(416,630),(423,560),(431,550),(439,600),(447,810),(455,850),(463,870),(471,1030),(479,1010),(487,1370),
    (490,1410),(496,1260),(502,1230),(510,1090),(518,940),(526,780),(534,590),(541,370),(547,180),(552,0),(752,0),(755,300),(760,440),
    (768,465),(775,390),(783,410),(791,515),(800,545),(810,565),(820,595),(830,655),(840,735),(850,825),(860,925),(868,995),(876,915),
    (885,865),(894,855),(897,875),(903,690),(909,465),(915,245),(920,0),(1100,0),(1110,55),(1118,95),(1126,370),(1134,470),(1142,590),
    (1150,655),(1160,625),(1170,605),(1180,655),(1190,635),(1200,655),(1210,735),(1214,755),(1222,605),(1230,425),(1238,265),(1247,55),
    (1256,245),(1262,305),(1266,0),(1490,0),(1496,115),(1502,255),(1508,355),(1514,305),(1520,375),(1527,445),(1535,465),(1543,385),
    (1551,435),(1559,455),(1567,555),(1575,645),(1583,525),(1590,305),(1596,555),(1602,735),(1608,655),(1614,565),(1620,695),(1626,425),
    (1632,125),(1635,0),(1700,0)]
frozen_ctrl = [(0,0),(28,0),(30,-60),(33,-100),(36,-150),(40,-170),(43,-200),(45,-260),(48,-280),(52,-290),(55,-260),(58,-270),(62,-230),
    (66,-250),(70,-283),(74,-270),(78,-300),(83,-329),(86,-300),(90,-310),(95,-340),(100,-345),(103,-352),(108,-360),(113,-370),
    (118,-372),(124,-375),(128,-370),(132,-360),(136,-330),(139,-306),(142,-280),(144,-240),(146,-230),(148,-280),(150,-215),(155,-210),
    (165,-210),(176,-210),(177,0),(386,0),(388,-190),(390,-60),(392,0),(745,0),(748,-80),(750,0),(1190,0),(1192,-20),(1195,0),
    (1205,-30),(1208,-10),(1212,-40),(1215,-15),(1220,-35),(1224,-10),(1228,-30),(1232,0),(1236,-20),(1240,0),(1455,0),(1462,-40),
    (1465,-30),(1468,-60),(1471,-20),(1474,-90),(1476,-78),(1480,-50),(1484,-100),(1488,-60),(1492,-20),(1496,-70),(1500,-100),
    (1503,-40),(1505,-150),(1507,-100),(1509,-90),(1511,-190),(1514,-120),(1517,-100),(1520,-170),(1523,-237),(1526,-180),(1529,-123),
    (1535,-125),(1541,-120),(1547,-118),(1553,-120),(1556,-180),(1559,-230),(1562,-140),(1565,-240),(1568,-260),(1571,-150),(1574,-120),
    (1576,-260),(1579,-130),(1582,-250),(1585,-110),(1588,-200),(1591,-230),(1594,-100),(1597,-170),(1600,-220),(1603,-90),(1606,-180),
    (1609,-200),(1612,-80),(1615,-120),(1618,-150),(1620,-60),(1622,-100),(1626,-120),(1629,-70),(1632,-30),(1635,0),(1700,0)]
frozen_new = [(0,0),(28,0),(33,-100),(40,-175),(45,-255),(52,-285),(58,-265),(66,-255),(74,-275),(83,-325),(90,-315),(100,-345),
    (108,-358),(118,-370),(128,-368),(136,-328),(142,-278),(146,-235),(150,-218),(165,-212),(176,-212),(177,0),(386,0),(388,-185),
    (390,-55),(392,0),(1455,0),(1468,-55),(1476,-75),(1484,-95),(1492,-25),(1500,-95),(1505,-145),(1511,-185),(1517,-105),(1523,-230),
    (1529,-125),(1547,-120),(1559,-225),(1568,-255),(1574,-125),(1582,-245),(1588,-205),(1594,-105),(1600,-215),(1609,-195),
    (1615,-125),(1622,-105),(1632,-35),(1635,0),(1700,0)]
snow_obs = [(45,350),(47,380),(49,420),(51,450),(53,480),(55,450),(57,440),(59,420),(61,430),(63,410),(65,440),(67,430),(69,420),(71,450),
    (73,440),(75,430),(77,450),(79,460),(81,440),(83,470),(85,480),(87,460),(89,500),(91,520),(93,480),(95,470),(97,440),(99,400),
    (101,380),(103,370),(105,400),(107,420),(109,440),(111,460),(113,480),(115,470),(117,500),(119,520),(121,510),(123,540),(125,560),
    (127,550),(129,570),(131,590),(133,580),(135,600),(137,620),(139,610),(141,630),(143,640),(145,620),(147,660),(149,700),(151,740),
    (153,780),(155,720),(157,650),(159,600),(161,520),(163,450),(165,380),(167,300),(169,240),(171,200),(173,150),(175,100),
    (397,200),(399,250),(401,300),(403,320),(405,380),(407,400),(409,440),(411,460),(413,480),(415,520),(417,600),(419,640),(421,580),
    (423,560),(425,540),(427,500),(429,520),(431,560),(433,540),(435,500),(437,520),(439,560),(441,600),(443,680),(445,720),(447,820),
    (449,840),(451,880),(453,850),(455,900),(457,830),(459,860),(461,820),(463,880),(465,950),(467,980),(469,1000),(471,960),(473,1050),
    (475,1100),(477,1080),(479,1000),(481,1120),(483,1150),(485,1300),(487,1400),(489,1350),(491,1300),(493,1250),(495,1200),(497,1150),
    (499,1280),(501,1250),(503,1200),(505,1130),(507,1180),(509,1100),(511,1050),(513,1000),(515,960),(517,920),(519,880),(521,840),
    (523,800),(525,760),(527,700),(529,640),(531,580),(533,520),(535,460),(537,400),(539,350),(541,280),(543,200),(545,140),(547,100),
    (758,400),(760,440),(762,420),(764,400),(766,460),(768,500),(770,420),(772,380),(774,360),(776,400),(778,420),(780,380),(782,400),
    (784,450),(786,500),(788,520),(790,540),(792,520),(794,560),(796,540),(798,560),(800,550),(802,520),(804,540),(806,580),(808,560),
    (810,600),(812,580),(814,620),(816,600),(818,640),(820,620),(822,660),(824,700),(826,680),(828,660),(830,700),(832,720),(834,760),
    (836,740),(838,780),(840,800),(842,820),(844,850),(846,880),(848,900),(850,880),(852,920),(854,940),(856,960),(858,1000),(860,1020),
    (862,1050),(864,1150),(866,1000),(868,980),(870,960),(872,940),(874,900),(876,920),(878,880),(880,900),(882,860),(884,880),(886,840),
    (888,860),(890,880),(892,850),(894,800),(896,760),(898,700),(911,400),(912,360),(913,300),(914,250),(915,200),
    (1125,300),(1127,380),(1129,420),(1131,400),(1133,500),(1135,560),(1137,600),(1139,620),(1141,650),(1143,640),(1145,660),(1147,620),
    (1149,640),(1151,660),(1153,620),(1155,600),(1157,640),(1159,660),(1161,680),(1163,640),(1165,620),(1167,660),(1169,680),(1171,560),
    (1173,600),(1175,640),(1177,660),(1179,620),(1181,680),(1183,640),(1185,600),(1187,620),(1189,660),(1191,640),(1193,680),(1195,640),
    (1197,700),(1199,720),(1201,680),(1203,700),(1205,720),(1207,760),(1209,740),(1211,780),(1213,760),(1215,720),(1217,680),(1219,620),
    (1221,560),(1223,500),(1225,460),(1227,420),(1229,380),(1231,340),(1233,300),(1235,260),(1237,220),(1239,180),(1241,140),(1243,100),
    (1245,80),(1250,100),(1252,150),(1254,250),(1256,300),(1258,350),(1260,300),(1262,250),
    (1500,200),(1503,250),(1506,300),(1508,350),(1510,300),(1513,280),(1516,350),(1519,400),(1522,420),(1525,450),(1528,420),(1531,400),
    (1534,450),(1537,480),(1540,420),(1543,380),(1546,420),(1549,460),(1552,440),(1555,420),(1558,460),(1561,500),(1564,540),(1567,580),
    (1570,620),(1573,660),(1576,640),(1579,600),(1582,560),(1585,500),(1588,360),(1591,320),(1594,450),(1597,560),(1600,620),(1602,700),
    (1604,800),(1606,720),(1608,650),(1610,600),(1612,560),(1614,580),(1616,620),(1618,680),(1620,640),(1622,520),(1624,420),(1626,350),
    (1628,280),(1630,200)]
# periods of daily snow observations equal to zero (first day, last day)
snow_obs_zero_periods = [(0, 30), (180, 393), (553, 752), (921, 1125), (1267, 1490), (1636, 1700)]

x_ticks = list(range(0, 1621, 90))

# ======================= helpers =======================
def unzip(pts):
    return [p[0] for p in pts], [p[1] for p in pts]

def join_segments(segs):
    xs, ys = [], []
    for s in segs:
        for d, v in s:
            xs.append(d); ys.append(v)
        xs.append(None); ys.append(None)
    return xs, ys

FONT = "Liberation Sans, Arial, Helvetica, sans-serif"
W, H = 1056, 1131
ML, MT, MB = 93, 15, 66
PW, PH = W - ML, H - MT - MB
def px2x(px): return (px - ML) / PW
def py2y(py): return (H - MB - py) / PH

panels_px = [(15, 199), (232, 415), (449, 632), (666, 849), (883, 1065)]
LW = 1.2
DOT = "4px,3px"
DASH = "12px,6px"
LEG = 19

fig = go.Figure()

def line(pts_x, pts_y, k, dash="solid"):
    fig.add_trace(go.Scatter(x=pts_x, y=pts_y, mode="lines", xaxis="x" + ("" if k == 1 else str(k)),
                             yaxis="y" + ("" if k == 1 else str(k)),
                             line=dict(color="black", width=LW, dash=dash), showlegend=False, hoverinfo="skip"))

def tri(pts_x, pts_y, k):
    fig.add_trace(go.Scatter(x=pts_x, y=pts_y, mode="markers", xaxis="x" + ("" if k == 1 else str(k)),
                             yaxis="y" + ("" if k == 1 else str(k)),
                             marker=dict(symbol="triangle-up-open", size=6, color="black", line=dict(width=1, color="black")),
                             showlegend=False, hoverinfo="skip"))

# (a)
line(*unzip(ice_koren), 1, DASH)
line(*unzip(ice_new), 1, DOT)
line(*unzip(ice_ctrl), 1)
# (b)
line(*join_segments(infil_koren_segs), 2, DASH)
line(*join_segments(infil_new_segs), 2, DOT)
line(*unzip(infil_ctrl), 2)
# (c)
line(*join_segments(sm_koren_segs), 3, DASH)
line(*join_segments(sm_new_segs), 3, DOT)
line(*unzip(sm_ctrl), 3)
# (d)
line(*unzip(temp_new), 4, DASH)
line(*unzip(temp_ctrl), 4)
tri(*unzip(temp_obs), 4)
# (e)
line(*unzip(frozen_new), 5, DOT)
line(*unzip(frozen_ctrl), 5)
line(*unzip(snow_new), 5, DOT)
line(*unzip(snow_ctrl), 5)
zero_days = [d for a, b in snow_obs_zero_periods for d in range(a, b + 1)]
tri(zero_days, [0] * len(zero_days), 5)
tri(*unzip(snow_obs), 5)

yranges = [[0, 1.4], [-1, 10], [60, 231], [-40, 5], [-500, 2000]]
yticks = [[round(0.2 * i, 1) for i in range(8)], list(range(0, 11, 2)), list(range(60, 211, 30)),
          list(range(-40, 1, 10)), list(range(-400, 2001, 400))]
ytickfmt = [".1f", "", "", "", ""]

layout = dict(width=W, height=H, margin=dict(l=ML, r=0, t=MT, b=MB), plot_bgcolor="white", paper_bgcolor="white",
              font=dict(family=FONT, size=18, color="black"), showlegend=False)
for i, (top, bot) in enumerate(panels_px):
    k = i + 1
    sx = "" if k == 1 else str(k)
    layout["xaxis" + sx] = dict(domain=[0, 1], anchor="y" + sx, range=[0, 1700], tickvals=x_ticks, ticks="inside",
                                ticklen=6, tickwidth=1, tickcolor="black", showline=True, linewidth=2.5, linecolor="black",
                                mirror=True, showgrid=False, zeroline=False, tickfont=dict(size=18, family=FONT),
                                ticklabelstandoff=2)
    layout["yaxis" + sx] = dict(domain=[py2y(bot), py2y(top)], anchor="x" + sx, range=yranges[i], tickvals=yticks[i],
                                tickformat=ytickfmt[i], ticks="inside", ticklen=5, tickwidth=1, tickcolor="black",
                                showline=True, linewidth=2.5, linecolor="black", mirror=False, showgrid=False,
                                zeroline=False, tickfont=dict(size=18, family=FONT), ticklabelstandoff=11)
fig.update_layout(**layout)

ann = []
shapes = []
def text(px, py, s, size=LEG, xanchor="left", angle=0):
    ann.append(dict(x=px2x(px), y=py2y(py), xref="paper", yref="paper", text=s, showarrow=False, xanchor=xanchor,
                    yanchor="middle", textangle=angle, font=dict(size=size, family=FONT, color="black")))
def sample(x0, x1, py, dash="solid"):
    shapes.append(dict(type="line", xref="paper", yref="paper", x0=px2x(x0), x1=px2x(x1), y0=py2y(py), y1=py2y(py),
                       line=dict(color="black", width=LW, dash=dash)))
def tri_sample(cx, cy, s=6):
    x0, x1, xm = px2x(cx - s / 2), px2x(cx + s / 2), px2x(cx)
    yb, yt = py2y(cy + s / 2), py2y(cy - s / 2)
    shapes.append(dict(type="path", xref="paper", yref="paper", path=f"M {x0},{yb} L {x1},{yb} L {xm},{yt} Z",
                       line=dict(color="black", width=1), fillcolor="rgba(0,0,0,0)"))

# y titles
text(35, 107, "Ice Fraction (-)", size=19, xanchor="center", angle=-90)
text(40, 323, "Infiltration (mm/day)", size=19, xanchor="center", angle=-90)
text(30, 540, "Soil Moisture (mm)", size=19, xanchor="center", angle=-90)
text(33, 757, "Surface Temp. (C)", size=19, xanchor="center", angle=-90)
text(18, 975, "Snow/Frozen Depth (mm)", size=19, xanchor="center", angle=-90)
# x title
text(546, 1115, "Days from Nov. 1, 1969", size=22, xanchor="center")
# panel labels
for lab, (lx, ly) in zip(["(a)", "(b)", "(c)", "(d)", "(e)"], [(1028, 33), (1028, 250), (1026, 467), (1026, 675), (1024, 900)]):
    text(lx, ly, lab)

# legends
for (s, d, ty, ly) in [("CTRL (mean=0.72)", "solid", 29, 30), ("NEW (mean=0.50)", DOT, 46, 48), ("KOREN (mean=0.38)", DASH, 62, 65)]:
    text(362, ty, s); sample(293, 347, ly, d)
for (s, d, ty, ly) in [("CTRL (mean=0.78)", "solid", 246, 246), ("NEW (mean=1.22)", DOT, 263, 264), ("KOREN (mean=1.42)", DASH, 281, 280)]:
    text(268, ty, s); sample(200, 252, ly, d)
for (s, d, ty, ly) in [("CTRL (mean=135.75)", "solid", 557, 554), ("NEW (mean=174.56)", DOT, 578, 578), ("KOREN (mean=176.09)", DASH, 596, 596)]:
    text(443, ty, s); sample(373, 427, ly, d)
text(442, 805, "OBS"); tri_sample(398, 805)
for (s, d, ty, ly) in [("CTRL (rmse=0.219)", "solid", 822, 822), ("NEW (rmse=0.216)", DASH, 838, 839)]:
    text(442, ty, s); sample(372, 417, ly, d)
text(706, 897, "Snow Depth (OBS)", size=18.5); tri_sample(662, 897)
for (s, d, ty, ly) in [("Snow Depth (CTRL) (rmse=1.640)", "solid", 913, 912), ("Snow Depth (NEW) (rmse=1.639)", DOT, 929, 929),
                       ("Frozen Depth (CTRL) (mean=-114.90)", "solid", 945, 944), ("Frozen Depth (NEW) (mean=-118.00)", DOT, 961, 959)]:
    text(706, ty, s, size=18.5); sample(636, 689, ly, d)

fig.update_layout(annotations=ann, shapes=shapes)
fig.write_html("out.html")
